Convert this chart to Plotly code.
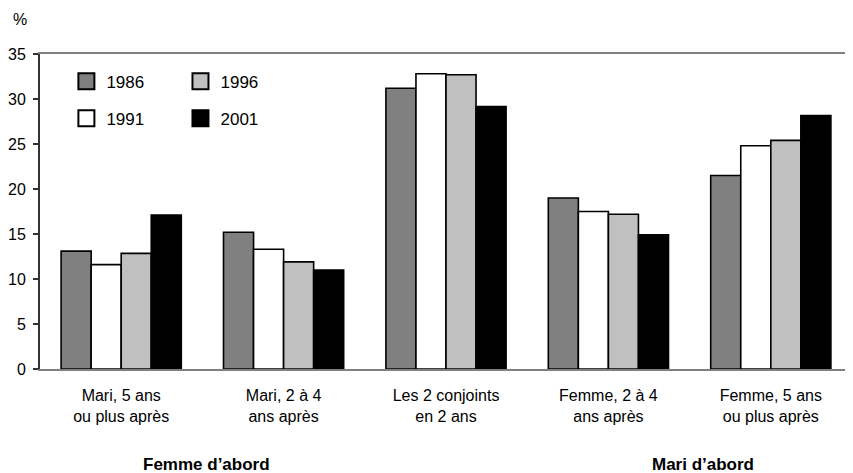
import plotly.graph_objects as go

categories = ["Mari, 5 ans<br>ou plus après", "Mari, 2 à 4<br>ans après", "Les 2 conjoints<br>en 2 ans",
              "Femme, 2 à 4<br>ans après", "Femme, 5 ans<br>ou plus après"]
years = ["1986", "1991", "1996", "2001"]
v1986 = [13.1, 15.2, 31.2, 19.0, 21.5]
v1991 = [11.6, 13.3, 32.8, 17.5, 24.8]
v1996 = [12.85, 11.9, 32.7, 17.2, 25.4]
v2001 = [17.1, 11.0, 29.15, 14.9, 28.15]
series = [v1986, v1991, v1996, v2001]
colors = ["#808080", "#ffffff", "#c0c0c0", "#000000"]
group_labels = ["Femme d’abord", "Mari d’abord"]
y_ticks = [0, 5, 10, 15, 20, 25, 30, 35]

FONT = "Liberation Sans, Arial, sans-serif"

fig = go.Figure()
for name, vals, col in zip(years, series, colors):
    fig.add_trace(go.Bar(x=categories, y=vals, name=name, showlegend=False,
                         marker=dict(color=col, line=dict(color="#000000", width=1.6))))

# legend entries (square swatches), each in its own legend box
legend_ids = ["legend", "legend2", "legend3", "legend4"]
legend_pos = {"1986": (0.0325, 0.912), "1996": (0.173, 0.912),
              "1991": (0.0325, 0.795), "2001": (0.173, 0.795)}
for name, col, lid in zip(years, colors, legend_ids):
    fig.add_trace(go.Scatter(x=[None], y=[None], mode="markers", name=name, legend=lid,
                             marker=dict(symbol="square", size=16, color=col,
                                         line=dict(color="#000000", width=2))))

layout_legends = {}
for name, lid in zip(years, legend_ids):
    lx, ly = legend_pos[name]
    layout_legends[lid] = dict(x=lx, y=ly, xanchor="left", yanchor="middle",
                               bgcolor="rgba(0,0,0,0)", itemsizing="trace",
                               font=dict(family=FONT, size=17, color="#000000"))

fig.update_layout(
    width=845, height=465,
    margin=dict(l=32, r=1, t=46, b=104),
    paper_bgcolor="white", plot_bgcolor="white",
    barmode="group", bargap=0.26, bargroupgap=0,
    font=dict(family=FONT, size=16, color="#000000"),
    showlegend=True,
    **layout_legends,
)
fig.update_xaxes(showline=True, linecolor="#808080", linewidth=2, mirror=True,
                 ticks="", showgrid=False, tickfont=dict(size=16, family=FONT),
                 ticklabelstandoff=11)
fig.update_yaxes(range=[0, 35], tickvals=y_ticks, showline=True, linecolor="#333333", linewidth=2,
                 ticks="outside", ticklen=5, tickcolor="#333333", tickwidth=1.5,
                 showgrid=False, zeroline=False, tickfont=dict(size=16, family=FONT),
                 ticklabelstandoff=4)
fig.add_shape(type="line", xref="paper", yref="paper", x0=1, x1=1, y0=0, y1=1,
              line=dict(color="#808080", width=2))
fig.add_annotation(text="%", xref="paper", yref="paper", x=-(40 - 19.5) / 812, y=1 + 34 / 315,
                   showarrow=False, xanchor="center", yanchor="middle",
                   font=dict(size=16, family=FONT))
for lbl, gx in zip(group_labels, [(206 - 40) / 812, (703 - 40) / 812]):
    fig.add_annotation(text="<b>" + lbl + "</b>", xref="paper", yref="paper", x=gx, y=-(464 - 369) / 315,
                       showarrow=False, xanchor="center", yanchor="middle",
                       font=dict(size=17, family=FONT))

fig.write_html("out.html")
